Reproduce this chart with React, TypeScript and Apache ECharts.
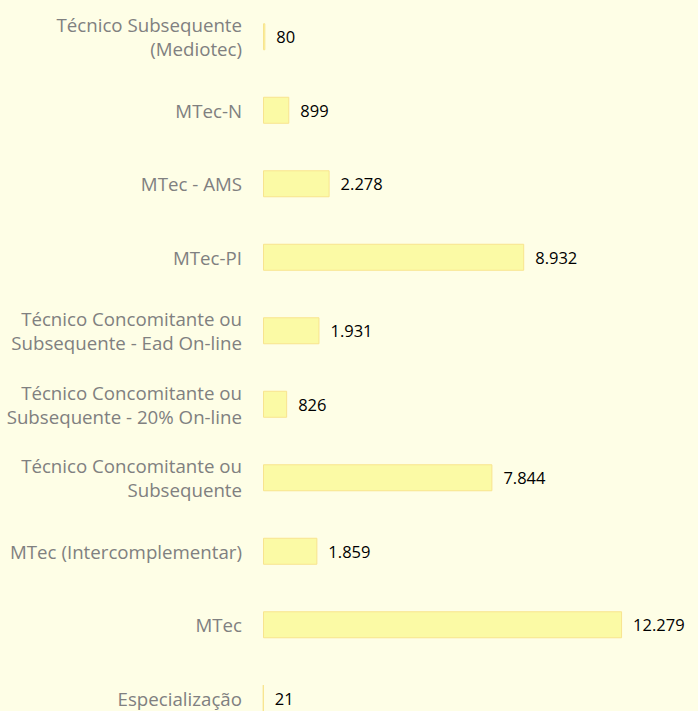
import React, { useEffect, useRef } from "react";
import * as echarts from "echarts";

const categories = [
  "Técnico Subsequente\n(Mediotec)",
  "MTec-N",
  "MTec - AMS",
  "MTec-PI",
  "Técnico Concomitante ou\nSubsequente - Ead On-line",
  "Técnico Concomitante ou\nSubsequente - 20% On-line",
  "Técnico Concomitante ou\nSubsequente",
  "MTec (Intercomplementar)",
  "MTec",
  "Especialização",
];
const values = [80, 899, 2278, 8932, 1931, 826, 7844, 1859, 12279, 21];

const fmt = (v: number) => v.toString().replace(/\B(?=(\d{3})+(?!\d))/g, ".");

export default function App() {
  const ref = useRef<HTMLDivElement>(null);
  useEffect(() => {
    document.body.style.margin = "0";
    document.body.style.overflow = "hidden";
    document.body.style.background = "#FEFEE6";
    const chart = echarts.init(ref.current!, null, { renderer: "svg" });
    chart.setOption({
      animation: false,
      backgroundColor: "#FEFEE6",
      grid: { left: 263, top: -1, width: 409.4, height: 736, containLabel: false },
      xAxis: {
        type: "value",
        min: 0,
        max: 14000,
        show: false,
      },
      yAxis: {
        type: "category",
        inverse: true,
        data: categories,
        axisLine: { show: false },
        axisTick: { show: false },
        axisLabel: {
          margin: 21,
          color: "#808080",
          fontFamily: "Open Sans",
          fontSize: 18.7,
          lineHeight: 24,
          align: "right",
        },
      },
      series: [
        {
          type: "bar",
          data: values,
          barWidth: 27,
          itemStyle: { color: "#FBFAA5", borderColor: "#F8E48E", borderWidth: 1 },
          label: {
            show: true,
            position: "right",
            distance: 11,
            color: "#000000",
            fontFamily: "Open Sans",
            fontSize: 16.5,
            formatter: (p: any) => fmt(p.value),
          },
        },
      ],
    });
    return () => chart.dispose();
  }, []);
  return <div ref={ref} style={{ width: 698, height: 737 }} />;
}
